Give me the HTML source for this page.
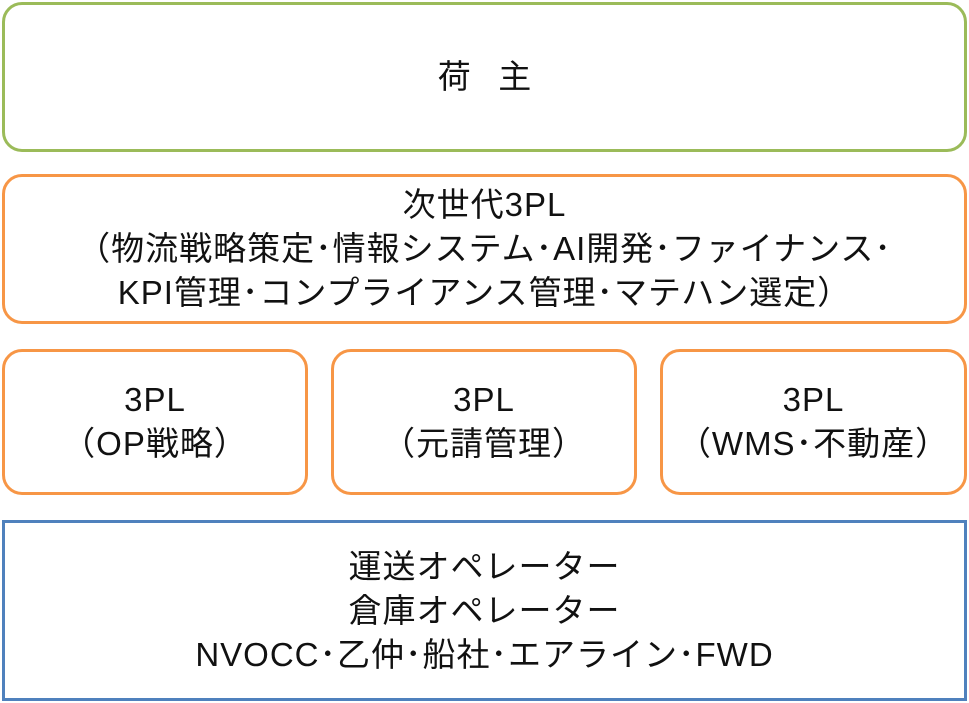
<!DOCTYPE html>
<html><head><meta charset="utf-8"><style>
body{margin:0;width:969px;height:703px;background:#fff;overflow:hidden;position:relative;font-family:"Liberation Sans","Noto Sans CJK JP",sans-serif;color:#111;}
.b{position:absolute;box-sizing:border-box;border:3px solid;display:flex;align-items:center;justify-content:center;text-align:center;font-size:33px;letter-spacing:1px;line-height:44px;white-space:nowrap;}
</style></head><body>
<div class="b" style="left:2px;top:2px;width:965px;height:150px;border-color:#9bbb59;border-radius:20px;letter-spacing:0">荷&nbsp;&nbsp;&nbsp;主</div>
<div class="b" style="left:2px;top:174px;width:965px;height:150px;border-color:#f79646;border-radius:20px;">次世代3PL<br>（物流戦略策定･情報システム･AI開発･ファイナンス･<br>KPI管理･コンプライアンス管理･マテハン選定）</div>
<div class="b" style="left:2px;top:349px;width:306px;height:146px;border-color:#f79646;border-radius:20px;">3PL<br>（OP戦略）</div>
<div class="b" style="left:331px;top:349px;width:306px;height:146px;border-color:#f79646;border-radius:20px;">3PL<br>（元請管理）</div>
<div class="b" style="left:660px;top:349px;width:307px;height:146px;border-color:#f79646;border-radius:20px;">3PL<br>（WMS･不動産）</div>
<div class="b" style="left:2px;top:520px;width:965px;height:181px;border-color:#4f81bd;">運送オペレーター<br>倉庫オペレーター<br>NVOCC･乙仲･船社･エアライン･FWD</div>
</body></html>
